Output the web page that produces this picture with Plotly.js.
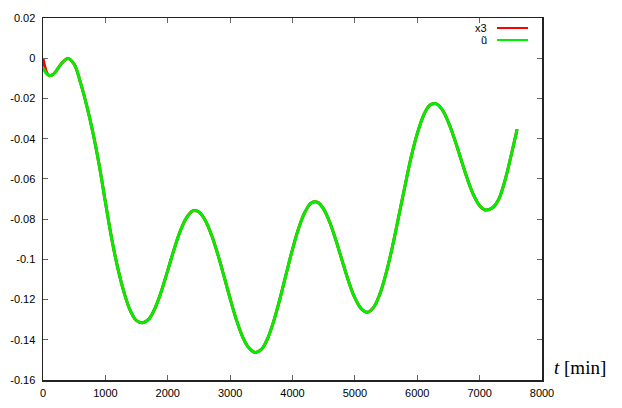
<!DOCTYPE html>
<html>
<head>
<meta charset="utf-8">
<script src="https://cdn.plot.ly/plotly-3.0.1.min.js"></script>
<style>
  body { margin: 0; background: #fff; }
  #chart { width: 622px; height: 408px; }
</style>
</head>
<body>
<div id="chart"></div>
<script>
// time samples [min]
var tMin = [0, 20, 60, 100, 150, 200, 300, 400, 500, 600, 700, 800, 900, 1000, 1100, 1200, 1300, 1400, 1500, 1600,
            1700, 1800, 1900, 2000, 2100, 2200, 2300, 2400, 2500, 2600, 2700, 2800, 2900, 3000, 3100, 3200, 3300, 3400,
            3500, 3600, 3700, 3800, 3900, 4000, 4100, 4200, 4300, 4400, 4500, 4600, 4700, 4800, 4900, 5000, 5100, 5200,
            5300, 5400, 5500, 5600, 5700, 5800, 5900, 6000, 6100, 6200, 6300, 6400, 6500, 6600, 6700, 6800, 6900, 7000,
            7100, 7200, 7300, 7400, 7500, 7601];

// u tilde (green)
var uTilde = [-0.0048, -0.0060, -0.0078, -0.0086, -0.0083, -0.0068, -0.0025, -0.0001, -0.0030, -0.0120, -0.0235, -0.0370,
              -0.0530, -0.0715, -0.0895, -0.1045, -0.1165, -0.1255, -0.1305, -0.1315,
              -0.1296, -0.1240, -0.1156, -0.1055, -0.0952, -0.0860, -0.0794, -0.0759, -0.0765, -0.0806, -0.0878, -0.0973,
              -0.1082, -0.1195, -0.1300, -0.1385, -0.1440, -0.1463,
              -0.1448, -0.1394, -0.1306, -0.1194, -0.1071, -0.0950, -0.0844, -0.0765, -0.0720, -0.0716, -0.0750, -0.0818,
              -0.0909, -0.1011, -0.1110, -0.1192, -0.1245, -0.1263,
              -0.1239, -0.1173, -0.1070, -0.0940, -0.0791, -0.0640, -0.0494, -0.0375, -0.0285, -0.0234,
              -0.0226, -0.0256, -0.0319, -0.0404, -0.0501, -0.0597, -0.0678, -0.0733,
              -0.0755, -0.0745, -0.0705, -0.0615, -0.0490, -0.0353];

// x3 (red), same as u tilde apart from the start
var x3 = [0.0000, -0.0030, -0.0072, -0.0086, -0.0083, -0.0068, -0.0025, -0.0001, -0.0030, -0.0120, -0.0235, -0.0370,
          -0.0530, -0.0715, -0.0895, -0.1045, -0.1165, -0.1255, -0.1305, -0.1315,
          -0.1296, -0.1240, -0.1156, -0.1055, -0.0952, -0.0860, -0.0794, -0.0759, -0.0765, -0.0806, -0.0878, -0.0973,
          -0.1082, -0.1195, -0.1300, -0.1385, -0.1440, -0.1463,
          -0.1448, -0.1394, -0.1306, -0.1194, -0.1071, -0.0950, -0.0844, -0.0765, -0.0720, -0.0716, -0.0750, -0.0818,
          -0.0909, -0.1011, -0.1110, -0.1192, -0.1245, -0.1263,
          -0.1239, -0.1173, -0.1070, -0.0940, -0.0791, -0.0640, -0.0494, -0.0375, -0.0285, -0.0234,
          -0.0226, -0.0256, -0.0319, -0.0404, -0.0501, -0.0597, -0.0678, -0.0733,
          -0.0755, -0.0745, -0.0705, -0.0615, -0.0490, -0.0353];

var yTickVals = [0.02, 0, -0.02, -0.04, -0.06, -0.08, -0.1, -0.12, -0.14, -0.16];
var yTickText = ['0.02', '0', '-0.02', '-0.04', '-0.06', '-0.08', '-0.1', '-0.12', '-0.14', '-0.16'];

var data = [
    {
        x: tMin, y: x3, name: 'x3', type: 'scatter', mode: 'lines',
        line: { color: '#ff0000', width: 3, shape: 'spline', smoothing: 1 },
        hoverinfo: 'none'
    },
    {
        x: tMin, y: uTilde, name: 'ũ', type: 'scatter', mode: 'lines',
        line: { color: '#00ee00', width: 3, shape: 'spline', smoothing: 1 },
        hoverinfo: 'none'
    }
];

var axisStyle = {
    showline: true, linecolor: '#222', linewidth: 1.5, mirror: 'ticks',
    ticks: 'inside', ticklen: 5, tickcolor: '#666', tickwidth: 1,
    showgrid: false, zeroline: false,
    tickfont: { family: 'Liberation Sans, Arial, sans-serif', size: 11, color: '#000' }
};

var layout = {
    width: 622, height: 408,
    margin: { l: 43, r: 80, t: 18, b: 28 },
    paper_bgcolor: '#fff', plot_bgcolor: '#fff',
    showlegend: false,
    xaxis: Object.assign({}, axisStyle, { range: [0, 8000], dtick: 1000, tick0: 0, ticklabelstandoff: 2 }),
    yaxis: Object.assign({}, axisStyle, { range: [-0.16, 0.02], tickvals: yTickVals, ticktext: yTickText, ticklabelstandoff: 4 }),
    annotations: [
        { xref: 'paper', yref: 'paper', x: 1.02, y: 0, xanchor: 'left', yanchor: 'bottom', yshift: 0,
          text: '<i>t</i> [min]', showarrow: false,
          font: { family: 'Liberation Serif, Times New Roman, serif', size: 19, color: '#000' } },
        { xref: 'paper', yref: 'paper', x: 0.894, y: 0.9724, xanchor: 'right', yanchor: 'middle',
          text: 'x3', showarrow: false, font: { family: 'Liberation Sans, Arial, sans-serif', size: 11, color: '#000' } },
        { xref: 'paper', yref: 'paper', x: 0.894, y: 0.9392, xanchor: 'right', yanchor: 'middle',
          text: 'ũ', showarrow: false, font: { family: 'Liberation Sans, Arial, sans-serif', size: 11, color: '#000' } }
    ],
    shapes: [
        { type: 'line', xref: 'paper', yref: 'paper', x0: 0.9098, x1: 0.9719, y0: 0.9724, y1: 0.9724,
          line: { color: '#ff0000', width: 2 } },
        { type: 'line', xref: 'paper', yref: 'paper', x0: 0.9098, x1: 0.9719, y0: 0.9392, y1: 0.9392,
          line: { color: '#00ee00', width: 2 } }
    ]
};

Plotly.newPlot('chart', data, layout, { displayModeBar: false, staticPlot: true });
</script>
</body>
</html>
